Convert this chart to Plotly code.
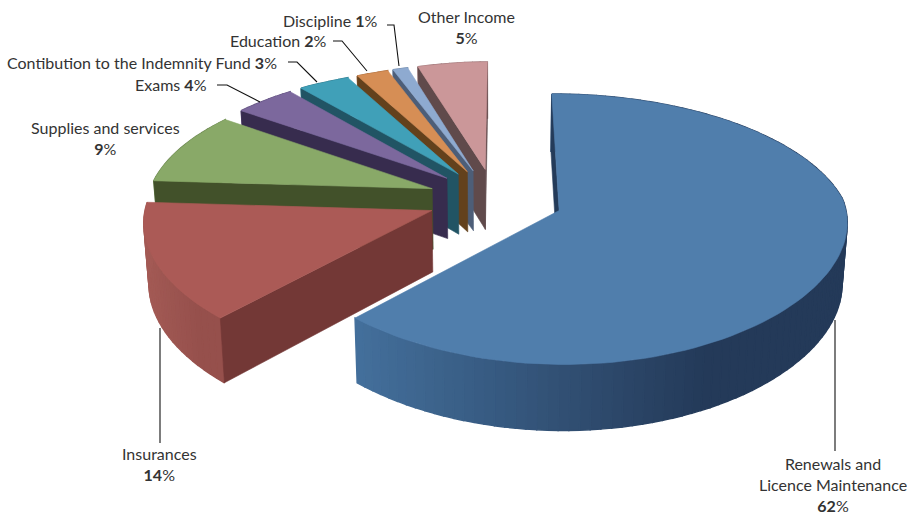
import numpy as np
import plotly.graph_objects as go

# Expenditure shares, clockwise from twelve o'clock
categories = ["Renewals and Licence Maintenance", "Insurances", "Supplies and services", "Exams",
              "Contibution to the Indemnity Fund", "Education", "Discipline", "Other Income"]
values = [62, 14, 9, 4, 3, 2, 1, 5]

top_colors = ["#507eac", "#ab5a56", "#89a968", "#7c689d", "#40a0b8", "#d68e55", "#8eaad0", "#cb9799"]
cut_colors = ["#243b59", "#733836", "#42512a", "#372c4e", "#215464", "#63411c", "#4d5e78", "#604a4b"]
rim_light = ["#44709c", "#a35a55", "#6a8450", "#5f4f7c", "#2f7a8c", "#a86c3e", "#6c84a4", "#9c7678"]
rim_dark = ["#243a59", "#96504c", "#6a8450", "#5f4f7c", "#2f7a8c", "#a86c3e", "#6c84a4", "#9c7678"]

# Projection of the tilted pie onto the page
CX, CY = 495.5, 199.0
RADIUS = 285.0
EXPLODE = 68.0
TILT_A, TILT_B = 2.2, 0.30
K_BACK, K_FRONT = 0.135, 0.075
FAR_SQUEEZE = 0.6
FLOOR_SHRINK = 0.985


def project(px, py):
    a = np.asarray(py, dtype=float) / RADIUS
    k = np.where(a > 0, K_BACK, K_FRONT)
    depth = 1 + k * a + FAR_SQUEEZE * np.maximum(a - 1, 0)
    return CX + px / depth, CY - py / (TILT_A + TILT_B * a)


def thickness(py):
    return 61.0 / (1 + 0.07 * py / RADIUS)


def floor_x(x):
    # the underside of the pie sits further from the viewer than its top
    return CX + (x - CX) * FLOOR_SHRINK


def hex_mix(c1, c2, t):
    a = np.array([int(c1[i:i + 2], 16) for i in (1, 3, 5)])
    b = np.array([int(c2[i:i + 2], 16) for i in (1, 3, 5)])
    m = (a + (b - a) * t).round().astype(int)
    return f"rgb({m[0]},{m[1]},{m[2]})"


fig = go.Figure()


def polygon(xs, ys, color, edge=0.6):
    xs, ys = [float(v) for v in xs], [float(v) for v in ys]
    fig.add_trace(go.Scatter(x=xs + [xs[0]], y=ys + [ys[0]], mode="lines", fill="toself",
                             fillcolor=color, line=dict(color=color, width=edge),
                             hoverinfo="skip", showlegend=False))


total = sum(values)
starts = np.cumsum([0] + values[:-1]) / total * 2 * np.pi
spans = np.array(values) / total * 2 * np.pi

# Back slices are painted first so the nearer ones overlap them
order = [7, 6, 5, 4, 3, 2, 1, 0]
for i in order:
    mid = starts[i] + spans[i] / 2
    ax, ay = EXPLODE * np.sin(mid), EXPLODE * np.cos(mid)
    n = max(2, int(np.degrees(spans[i]) / 2))
    th = np.linspace(starts[i], starts[i] + spans[i], n + 1)
    wx, wy = ax + RADIUS * np.sin(th), ay + RADIUS * np.cos(th)
    sx, sy = project(wx, wy)
    h = thickness(wy)
    apx, apy = project(ax, ay)
    aph = thickness(ay)
    bx, apbx = floor_x(sx), floor_x(apx)

    # outer rim, shaded from the lit left side to the dark right side
    lo, hi = sx.min(), sx.max()
    for j in range(n):
        t = float(np.clip((sx[j] - lo) / (0.72 * (hi - lo)), 0, 1))
        polygon([sx[j], sx[j + 1], bx[j + 1], bx[j]],
                [sy[j], sy[j + 1], sy[j + 1] + h[j + 1], sy[j] + h[j]],
                hex_mix(rim_light[i], rim_dark[i], t), edge=1.4)

    # radial cut faces that turn towards the viewer
    if sx[0] < apx:
        polygon([apx, sx[0], bx[0], apbx], [apy, sy[0], sy[0] + h[0], apy + aph], cut_colors[i])
    if sx[-1] > apx + 0.5:
        polygon([apx, sx[-1], bx[-1], apbx], [apy, sy[-1], sy[-1] + h[-1], apy + aph], cut_colors[i])

    # top face
    polygon([apx] + list(sx), [apy] + list(sy), top_colors[i])

LABEL_FONT = dict(family="Lato", size=16, color="#333333")
labels = [
    ("Renewals and<br>Licence Maintenance<br><b>62</b>%", 833, 484, "center"),
    ("Insurances<br><b>14</b>%", 159, 464, "center"),
    ("Supplies and services<br><b>9</b>%", 105, 138, "center"),
    ("Exams <b>4</b>%", 209, 84, "right"),
    ("Contibution to the Indemnity Fund <b>3</b>%", 279, 62, "right"),
    ("Education <b>2</b>%", 329, 40, "right"),
    ("Discipline <b>1</b>%", 380, 20, "right"),
    ("Other Income<br><b>5</b>%", 466, 27, "center"),
]
for text, x, y, anchor in labels:
    fig.add_annotation(x=x, y=y, text=text, showarrow=False, xanchor=anchor, yanchor="middle",
                       align=anchor, font=LABEL_FONT, xref="x", yref="y")

leaders = [
    ([835, 835], [320, 451]),
    ([160, 160], [328, 443]),
    ([217, 227, 260], [85, 85, 102]),
    ([288, 297, 317], [62, 62, 82]),
    ([333, 342, 367], [41, 41, 71]),
    ([387, 394, 399], [25, 25, 66]),
]
for lx, ly in leaders:
    fig.add_trace(go.Scatter(x=lx, y=ly, mode="lines", line=dict(color="#111111", width=1.1),
                             hoverinfo="skip", showlegend=False))

fig.update_layout(
    width=907, height=517, margin=dict(l=0, r=0, t=0, b=0), autosize=False,
    paper_bgcolor="white", plot_bgcolor="white", showlegend=False,
    xaxis=dict(range=[0, 907], visible=False, fixedrange=True),
    yaxis=dict(range=[517, 0], visible=False, fixedrange=True),
)

fig.write_html("out.html", config=dict(displayModeBar=False))
